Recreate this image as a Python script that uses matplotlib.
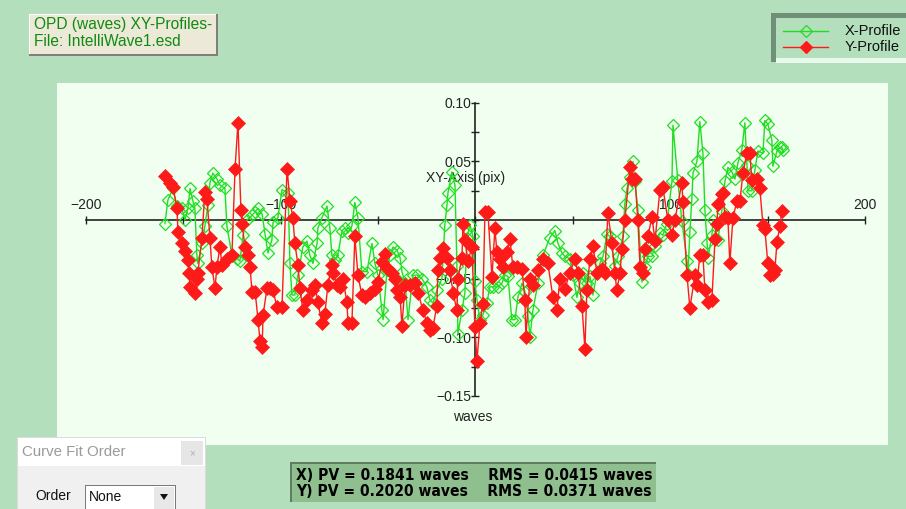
import matplotlib
matplotlib.use("Agg")
import matplotlib.pyplot as plt
from matplotlib.patches import Rectangle, Polygon
from matplotlib.lines import Line2D
from matplotlib.ticker import FixedLocator

# ---------------- data ----------------
x_xprof = [-159.4, -157.9, -155.3, -153.2, -150.7, -149.1, -147.6, -146.5, -145.0, -144.0, -143.0, -142.5,
           -140.4, -138.9, -137.3, -136.3, -134.8, -132.7, -131.2, -128.6, -127.6, -125.0, -122.4, -120.9,
           -119.3, -117.3, -114.7, -113.1, -111.6, -109.5, -108.0, -106.5, -104.5, -103.9, -101.4, -99.3,
           -96.2, -95.2, -94.2, -92.7, -91.1, -88.6, -86.5, -85.0, -83.4, -81.3, -80.9, -78.8, -76.2, -74.7,
           -73.7, -72.1, -70.6, -68.5, -67.0, -65.4, -63.4, -61.9, -60.3, -58.3, -55.7, -53.1, -51.6, -50.0,
           -48.0, -47.4, -45.4, -43.9, -42.3, -40.2, -38.7, -37.7, -36.1, -34.6, -32.1,
           -30.0, -27.5, -24.9, -23.4, -21.8, -19.8, -17.2, -15.7, -14.6, -14.1, -12.1, -10.5, -9.5, -9.0,
           -6.9, -5.4, -4.4, -2.8, -1.3, -0.3, 0.8, 2.3, 3.8, 5.9, 7.4, 9.0, 11.6, 13.6, 15.1, 16.7, 18.7,
           20.3, 21.8, 23.9, 25.4, 27.0, 28.0, 29.5, 32.1, 34.7,
           38.2, 40.8, 42.4, 44.4, 45.9, 48.5, 50.1, 52.1, 53.6, 55.2, 57.2, 58.8, 60.3, 62.4, 63.9, 65.5,
           67.5, 69.0, 71.6, 73.2, 75.7, 76.7, 77.8, 79.3, 80.9, 81.9, 83.4, 85.5, 87.0, 88.6, 90.6, 92.2,
           94.7, 96.2, 98.3, 100.9, 101.4,
           103.9, 106.0, 108.6, 109.1, 110.1, 111.1, 111.7, 113.7, 115.2, 116.8, 117.8, 118.9, 119.4, 121.4,
           122.0, 124.5, 126.5, 128.1, 129.6, 131.7, 133.2, 134.8, 136.8, 138.3, 139.4, 139.9, 141.9, 143.5,
           145.0, 147.6, 148.6, 150.1, 152.2, 152.7, 154.8, 156.3, 157.3, 157.8]
y_xprof = [-0.003, 0.017, 0.027, 0.012, 0.010, 0.000, 0.010, 0.027, 0.016, 0.010, -0.030, -0.037,
           -0.020, -0.005, 0.013, 0.032, 0.040, 0.035, 0.030, 0.027, -0.005, -0.030, -0.033, -0.035,
           -0.013, 0.000, 0.004, 0.007, 0.010, 0.005, -0.012, -0.028, -0.017, -0.002, 0.002, 0.026,
           0.023, -0.037, -0.064, -0.064, -0.047, -0.023, -0.018, -0.030, -0.037, -0.020, -0.007, 0.002,
           0.012, -0.007, -0.030, -0.034, -0.030, -0.009, -0.007, -0.011, -0.005, 0.015, 0.002, -0.044,
           -0.044, -0.020, -0.037, -0.047, -0.077, -0.085, -0.043, -0.030, -0.023, -0.026, -0.032, -0.044,
           -0.054, -0.085, -0.047,
           -0.047, -0.050, -0.057, -0.068, -0.071, -0.060, -0.050, -0.004, 0.013, 0.023, 0.041, 0.030,
           -0.039, -0.097, -0.077, -0.062, -0.015, -0.004, -0.014, -0.052, -0.068, -0.085, -0.081, -0.071,
           -0.057, -0.057, -0.057, -0.054, -0.047, -0.048, -0.085, -0.085, -0.066, -0.054, -0.061, -0.082,
           -0.100, -0.077, -0.054, -0.030,
           -0.015, -0.009, -0.020, -0.028, -0.031, -0.033, -0.047, -0.066, -0.054, -0.045, -0.054, -0.048,
           -0.064, -0.045, -0.037, -0.031, -0.012, -0.014, -0.039, -0.031, -0.014, 0.014, 0.027, 0.037,
           0.050, 0.033, 0.009, -0.053, -0.040, -0.031, -0.031, -0.022, -0.011, -0.013, -0.003, 0.033,
           0.081,
           0.034, -0.001, -0.035, -0.046, -0.010, 0.018, 0.040, 0.050, 0.084, 0.057, 0.009, -0.020,
           -0.032, -0.013, 0.000, -0.017, 0.008, 0.033, 0.045, 0.041, 0.035, 0.049, 0.060, 0.083, 0.047,
           0.025, 0.025, 0.043, 0.059, 0.057, 0.085, 0.082, 0.068, 0.046, 0.059, 0.062, 0.062, 0.060]

x_yprof = [-159.4, -156.8, -155.3, -153.2, -152.7, -150.7, -149.1, -147.6, -147.0, -146.5, -144.0, -143.0,
           -142.5, -140.4, -138.9, -137.8, -136.3, -135.3, -133.7, -132.7, -131.2, -130.1, -127.6, -125.0,
           -123.4, -121.9, -120.4, -119.8, -118.3, -116.7, -115.7, -114.7, -113.1, -111.6, -110.6, -109.5,
           -109.0, -107.0, -105.5, -103.9, -101.9, -99.3, -96.7,
           -95.2, -93.7, -92.7, -91.1, -90.1, -88.6, -86.5, -84.0, -82.4, -80.9, -78.8, -77.3, -75.7,
           -73.7, -73.2, -71.1, -69.6, -68.0, -66.0, -65.4, -63.4, -61.9, -60.3, -58.3, -56.7, -54.1,
           -51.6, -50.0, -48.0, -46.4, -44.9, -42.8, -41.3, -40.2, -38.7, -37.7, -36.1, -33.6, -31.0,
           -29.5, -26.9, -24.9, -23.4, -21.8, -19.8, -19.3, -18.2, -16.7, -14.6, -13.1, -11.5, -9.5, -9.0,
           -6.9, -6.4, -5.4, -3.8, -1.8, -0.3, 0.8, 2.3, 3.8, 4.9, 6.4, 8.5, 10.0, 11.0, 12.6, 14.1, 16.2,
           17.7, 19.2, 21.3, 23.9, 25.4, 25.9, 28.0, 29.5, 32.1, 34.7,
           37.2, 39.8, 41.8, 43.4, 45.9, 48.5, 51.1, 52.6, 54.7, 56.2, 57.2, 58.8, 60.3, 62.4, 64.9, 66.5,
           68.0, 70.1, 71.6, 72.6, 74.2, 75.2, 76.7, 79.3, 80.3, 81.9, 83.4, 84.5, 86.0, 87.0, 88.6, 90.6,
           92.2, 94.7, 96.2, 98.8, 100.9,
           102.4, 106.0, 106.5, 108.6, 110.1, 112.7, 113.7, 115.2, 116.8, 117.8, 119.4, 121.4, 123.0,
           124.0, 124.5, 126.5, 127.0, 128.1, 129.6, 130.6, 132.2, 134.2, 135.8, 137.3, 139.4, 140.9,
           141.9, 144.5, 146.0, 147.6, 148.6, 150.1, 151.2, 152.7, 153.7, 154.8, 156.3, 157.3]
y_yprof = [0.038, 0.032, 0.028, 0.010, -0.010, -0.020, -0.026, -0.034, -0.045, -0.057, -0.062, -0.050,
           -0.045, -0.015, 0.024, 0.018, -0.015, -0.040, -0.058, -0.040, -0.023, -0.038, -0.033, -0.030,
           0.044, 0.083, 0.009, -0.003, -0.023, -0.030, -0.040, -0.061, -0.061, -0.085, -0.103, -0.108,
           -0.081, -0.058, -0.058, -0.060, -0.074, -0.074, 0.044,
           0.016, 0.002, -0.020, -0.038, -0.058, -0.077, -0.068, -0.060, -0.055, -0.070, -0.088, -0.080,
           -0.055, -0.038, -0.045, -0.055, -0.057, -0.050, -0.070, -0.088, -0.088, -0.014, -0.047, -0.064,
           -0.066, -0.062, -0.059, -0.053, -0.036, -0.029, -0.042, -0.045, -0.050, -0.060, -0.066, -0.090,
           -0.055, -0.055, -0.054,
           -0.062, -0.077, -0.088, -0.094, -0.092, -0.073, -0.043, -0.032, -0.024, -0.032, -0.043, -0.062,
           -0.077, -0.050, -0.032, -0.003, -0.017, -0.035, -0.023, -0.091, -0.120, -0.088, -0.072, 0.007,
           0.007, -0.049, -0.007, -0.027, -0.033, -0.040, -0.027, -0.016, -0.040, -0.040, -0.042, -0.068,
           -0.100, -0.050, -0.055, -0.043, -0.033,
           -0.037, -0.066, -0.077, -0.050, -0.059, -0.045, -0.033, -0.045, -0.073, -0.110, -0.060, -0.033,
           -0.022, -0.045, -0.042, -0.045, 0.006, -0.020, -0.045, -0.060, -0.045, -0.025, 0.000, 0.045,
           0.035, 0.035, 0.000, -0.040, -0.045, -0.025, -0.014, 0.003, -0.018, 0.026, 0.028, 0.000, -0.013,
           0.000, 0.032, 0.015, -0.047, -0.075, -0.047, -0.055, -0.030, -0.030, -0.060, -0.070, -0.068,
           -0.016, -0.003, 0.014, 0.022, 0.023, 0.003, 0.002, -0.037, 0.002, 0.016, 0.016, 0.040, 0.057,
           0.057, 0.034, 0.035, 0.027, -0.004, -0.008, -0.037, -0.047, -0.046, -0.043, -0.019, -0.005, 0.008]

x_major = [-200, -100, 100, 200]
x_major_labels = ["\u2212200", "\u2212100", "100", "200"]
x_minor = [-150, -50, 0, 50, 150]
y_major = [0.10, 0.05, -0.05, -0.10, -0.15]
y_major_labels = ["0.10", "0.05", "\u22120.05", "\u22120.10", "\u22120.15"]
y_minor = [0.075, 0.025, 0.0, -0.025, -0.075, -0.125]

title_lines = ["OPD (waves) XY-Profiles-", "File: IntelliWave1.esd"]
series_names = ["X-Profile", "Y-Profile"]
stats_lines = ["X) PV = 0.1841 waves    RMS = 0.0415 waves",
               "Y) PV = 0.2020 waves    RMS = 0.0371 waves"]

# ---------------- figure ----------------
W, H = 906, 509
BG = "#B3DFBD"
PANEL = "#F0FFF0"
GREEN = "#22DD22"
RED = "#FF1A1A"
FONT = "Liberation Sans"

fig = plt.figure(figsize=(W / 100, H / 100), dpi=100, facecolor=BG)

def fx(px):
    return px / W

def fy(py):
    return 1 - py / H

# light plot panel
fig.patches.append(Rectangle((fx(57), fy(445)), fx(888) - fx(57), fy(83) - fy(445),
                             transform=fig.transFigure, facecolor=PANEL, edgecolor="none", zorder=-5))

ax = fig.add_axes([fx(57), fy(445), fx(888) - fx(57), fy(83) - fy(445)])
ax.set_zorder(1)
ax.set_facecolor("none")
ax.set_xlim(-214.8, 211.8)
ax.set_ylim(-0.192, 0.117)

ax.plot(x_xprof, y_xprof, color=GREEN, lw=1.0, marker="D", ms=6.6, mfc="none", mec=GREEN,
        mew=0.9, zorder=3)
ax.plot(x_yprof, y_yprof, color=RED, lw=1.0, marker="D", ms=6.8, mfc=RED, mec=RED,
        mew=0.5, zorder=4)

for s in ["top", "right"]:
    ax.spines[s].set_visible(False)
ax.spines["bottom"].set_position(("data", 0))
ax.spines["left"].set_position(("data", 0))
ax.spines["bottom"].set_bounds(-200, 200)
ax.spines["left"].set_bounds(-0.15, 0.10)
for s in ["bottom", "left"]:
    ax.spines[s].set_color("#222222")
    ax.spines[s].set_linewidth(1.2)
    ax.spines[s].set_zorder(2)

ax.xaxis.set_major_locator(FixedLocator(x_major))
ax.xaxis.set_minor_locator(FixedLocator(x_minor))
ax.set_xticklabels(x_major_labels)
ax.yaxis.set_major_locator(FixedLocator(y_major))
ax.yaxis.set_minor_locator(FixedLocator(y_minor))
ax.set_yticklabels(y_major_labels)
ax.tick_params(axis="both", which="both", direction="inout", length=6, width=1.0,
               color="#222222", labelcolor="#222222", labelsize=10)
ax.tick_params(axis="x", which="major", pad=-19)
ax.tick_params(axis="y", which="major", pad=0)
for lab in ax.get_xticklabels() + ax.get_yticklabels():
    lab.set_fontfamily(FONT)

ax.text(-4.9, 0.036, "XY-Axis (pix)", fontsize=10, family=FONT, color="#222222",
        ha="center", va="center", zorder=2)
ax.text(-1.3, -0.168, "waves", fontsize=10, family=FONT, color="#222222",
        ha="center", va="center", zorder=2)

# ---------------- boxes ----------------
def rect(x0, y0, x1, y1, fc, ec="none", lw=0, z=5):
    fig.patches.append(Rectangle((fx(x0), fy(y1)), fx(x1) - fx(x0), fy(y0) - fy(y1),
                                 transform=fig.transFigure, facecolor=fc, edgecolor=ec,
                                 linewidth=lw, zorder=z))

# title box
rect(29, 14, 218, 56, "#808078")
rect(29, 14, 216, 54, "#FFFFFF")
rect(30, 15, 216, 54, "#ECE9D8")
fig.text(fx(34), fy(25), title_lines[0], fontsize=11.2, family=FONT, color="#108A10",
         ha="left", va="center", zorder=6)
fig.text(fx(34), fy(42), title_lines[1], fontsize=11.2, family=FONT, color="#108A10",
         ha="left", va="center", zorder=6)

# legend box
rect(771, 13, 906, 62, "#6F8F76")
rect(776, 18, 906, 58, BG)
rect(776, 58, 906, 63, "#E8F8EA")
lx0, lx1 = fx(783), fx(828)
for i, (name, col, mfc) in enumerate(zip(series_names, [GREEN, RED], ["none", RED])):
    yy = fy(31 + 16 * i)
    fig.lines.append(Line2D([lx0, lx1], [yy, yy], transform=fig.transFigure, color=col, lw=1.0,
                            zorder=6))
    fig.lines.append(Line2D([(lx0 + lx1) / 2], [yy], transform=fig.transFigure, color=col,
                            marker="D", ms=6, mfc=mfc, mec=col, mew=0.9, zorder=7))
    fig.text(fx(845), yy, name, fontsize=10.5, family=FONT, color="#111111", ha="left",
             va="center", zorder=7)

# stats box
rect(290, 462, 656, 502, "#5E7E62")
rect(292, 464, 656, 502, "#8FBF8F")
for i, line in enumerate(stats_lines):
    fig.text(fx(296), fy(475 + 16 * i), line, fontsize=11.2, family="DejaVu Sans",
             fontweight="bold", fontstretch="condensed", color="#000000", ha="left",
             va="center", zorder=7)

# curve fit dialog
rect(17, 437, 206, 509, "#DCDCDC", z=8)
rect(18, 438, 205, 509, "#FFFFFF", z=8)
rect(18, 466, 205, 509, "#F0F0F0", z=8)
rect(181, 441, 203, 465, "#E6E6E6", z=9)
fig.text(fx(22), fy(452), "Curve Fit Order", fontsize=10.8, family=FONT, color="#9A9A9A",
         ha="left", va="center", zorder=10)
fig.text(fx(192), fy(453), "\u00d7", fontsize=7, family=FONT, color="#B0B0B0",
         ha="center", va="center", zorder=10)
fig.text(fx(35), fy(496), "Order", fontsize=10, family=FONT, color="#111111",
         ha="left", va="center", zorder=10)
rect(85, 485, 176, 509, "#7A7A7A", z=9)
rect(86, 486, 175, 509, "#FFFFFF", z=9)
rect(154, 487, 174, 509, "#E8E8E8", z=9)
fig.text(fx(89), fy(497), "None", fontsize=10, family=FONT, color="#111111",
         ha="left", va="center", zorder=10)
fig.patches.append(Polygon([[fx(160), fy(494)], [fx(168), fy(494)], [fx(164), fy(500)]],
                           closed=True, transform=fig.transFigure, facecolor="#111111",
                           edgecolor="none", zorder=10))

fig.savefig("out.png", dpi=100, facecolor=BG)
